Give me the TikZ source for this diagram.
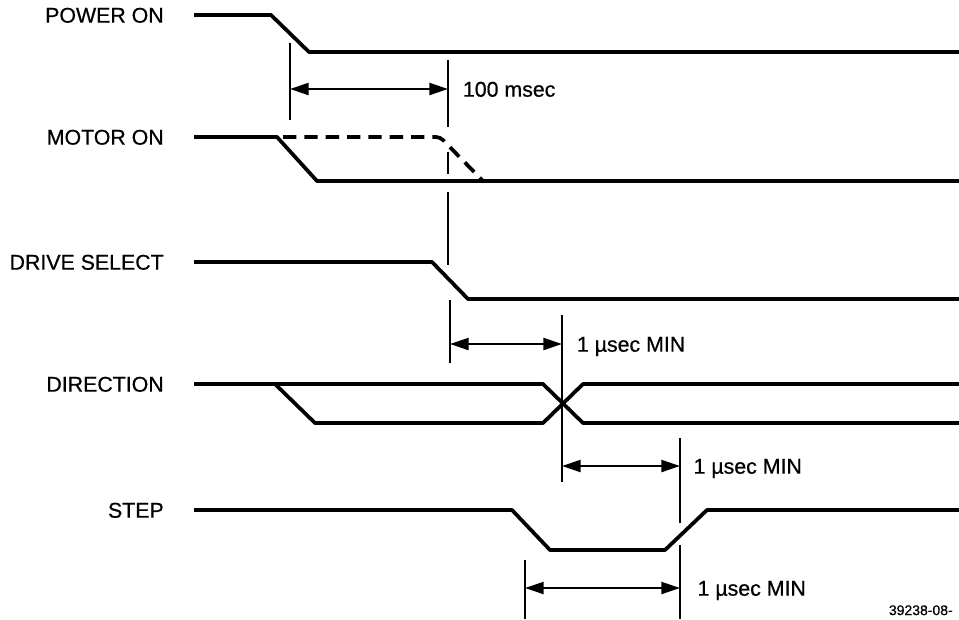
\documentclass[tikz,border=0pt]{standalone}
\usepackage{fontspec}
\setmainfont{Liberation Sans}[FakeBold=0.6]
\usetikzlibrary{arrows.meta, positioning}

\begin{document}
\begin{tikzpicture}[
            x=0.75pt, y=-0.75pt,
            every node/.style={font=\fontsize{16}{18}\selectfont, inner sep=0pt, text height=11.5pt, text depth=0pt},
            siglabel/.style={anchor=east},
            dimlabel/.style={anchor=west},
            signal/.style={line width=2.8pt, line join=round},
            ghost/.style={signal, dash pattern=on 10pt off 6pt},
            marker/.style={line width=2.2pt},
            dimarrow/.style={{Triangle[length=14pt,width=9pt]}-{Triangle[length=14pt,width=9pt]}, line width=1.7pt}
        ]
            \useasboundingbox (0,0) rectangle (959,619);
            % signal names
            \node[siglabel] (pwr) at (164,15) {POWER ON};
            \node[siglabel] (mtr) at (164,137) {MOTOR ON};
            \node[siglabel] (dsel) at (164,262) {DRIVE SELECT};
            \node[siglabel] (dir) at (164,384) {DIRECTION};
            \node[siglabel] (stp) at (164,510) {STEP};
            % waveforms
            \draw[signal] (194,15) -- (271,15) -- (309,52) -- (959,52);
            \draw[signal] (194,137) -- (277,137) -- (317,181) -- (959,181);
            \draw[ghost, rounded corners=3pt] (283,137) -- (440,137) -- (483,181);
            \draw[signal] (194,262) -- (432,262) -- (468,299) -- (959,299);
            \draw[signal] (194,384) -- (543,384) -- (583,423) -- (959,423);
            \draw[signal] (275,384) -- (315,423) -- (543,423) -- (583,384) -- (959,384);
            \draw[signal] (194,510) -- (512,510) -- (550,550) -- (665,550) -- (707,510) -- (959,510);
            % timing marks
            \draw[marker] (290,43) -- (290,120);
            \draw[marker] (448,60) -- (448,127);
            \draw[marker, line width=1.6pt] (448,152) -- (448,174);
            \draw[marker, line width=1.6pt] (448,192) -- (448,265);
            \draw[marker] (450,300) -- (450,363);
            \draw[marker] (562,315) -- (562,482);
            \draw[marker] (680,438) -- (680,523);
            \draw[marker] (680,545) -- (680,619);
            \draw[marker] (525,560) -- (525,619);
            % dimensions
            \coordinate (a1) at (290,89);
            \coordinate (a2) at (448,89);
            \coordinate (b1) at (450,344);
            \coordinate (b2) at (562,344);
            \coordinate (c1) at (562,466);
            \coordinate (c2) at (680,466);
            \coordinate (d1) at (525,588);
            \coordinate (d2) at (680,588);
            \draw[dimarrow] (a1) -- (a2);
            \draw[dimarrow] (b1) -- (b2);
            \draw[dimarrow] (c1) -- (c2);
            \draw[dimarrow] (d1) -- (d2);
            \node[dimlabel, right=11pt of a2] (ms) {100 msec};
            \node[dimlabel, right=11pt of b2] (us1) {1 µsec MIN};
            \node[dimlabel, right=10pt of c2] (us2) {1 µsec MIN};
            \node[dimlabel, right=13pt of d2] (us3) {1 µsec MIN};
            \node[anchor=east, font=\fontsize{10.5}{12}\selectfont, text height=7.6pt] (fig) at (953,610) {39238-08-};
        \end{tikzpicture}
\end{document}
